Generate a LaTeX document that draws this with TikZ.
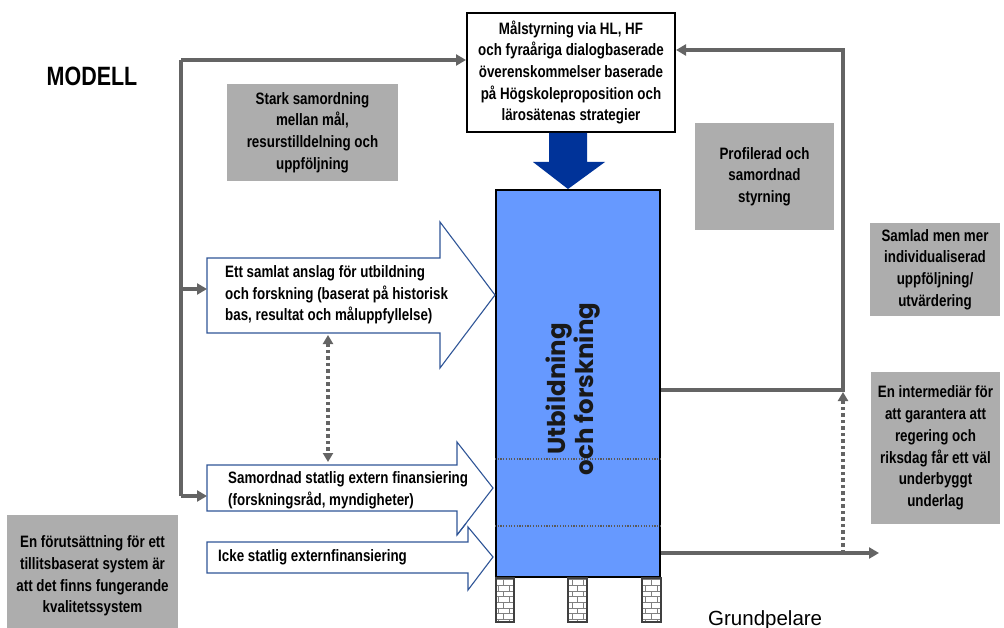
\documentclass[tikz,border=0pt]{standalone}
\usepackage{fontspec}
\setmainfont{Liberation Sans}
\newfontfamily\nb[FakeStretch=0.81]{Liberation Sans}
\newfontfamily\geo{Poppins}
\usetikzlibrary{patterns,arrows.meta}
\definecolor{boxgray}{HTML}{ADADAD}
\definecolor{linegray}{HTML}{646464}
\definecolor{ubblue}{HTML}{6699FF}
\definecolor{darkblue}{HTML}{003399}
\definecolor{outblue}{HTML}{2F5597}
\tikzset{
  graybox/.style={fill=boxgray, draw=none, align=center, inner sep=0pt, font=\nb\bfseries\fontsize{16.5}{21.7}\selectfont},
  txt/.style={align=left, inner sep=0pt, font=\nb\bfseries\fontsize{16.5}{21.7}\selectfont},
  conn/.style={draw=linegray, line width=3.4pt, -{Triangle[length=10pt,width=11pt]}},
  dotconn/.style={draw=linegray, line width=4pt, dash pattern=on 3.5pt off 3pt},
  bigarrow/.style={draw=outblue, line width=1.1pt, fill=white},
  pillar/.style={draw=black!75, line width=2pt, pattern=bricks, pattern color=black!50},
}
\begin{document}
\begin{tikzpicture}[x=1pt,y=-1pt]
\useasboundingbox (0,0) rectangle (1004,628);
% title
\node[font=\nb\bfseries\fontsize{26.5}{30}\selectfont, inner sep=0pt] (title) at (92,76) {MODELL};
% top box
\node[draw=black, line width=2pt, minimum width=208pt, minimum height=119pt, inner sep=0pt, align=center,
  font=\nb\bfseries\fontsize{16.5}{21.7}\selectfont] (goal) at (571,72.5)
  {Målstyrning via HL, HF\\och fyraåriga dialogbaserade\\överenskommelser baserade\\på Högskoleproposition och\\lärosätenas strategier};
% gray boxes
\node[graybox, minimum width=171pt, minimum height=97pt] (stark) at (312.5,132.5) {Stark samordning\\mellan mål,\\resurstilldelning och\\uppföljning};
\node[graybox, minimum width=139pt, minimum height=107pt] (prof) at (764.5,176.5) {Profilerad och\\samordnad\\styrning};
\node[graybox, minimum width=130pt, minimum height=93pt] (saml) at (935,269.5) {Samlad men mer\\individualiserad\\uppföljning/\\utvärdering};
\node[graybox, minimum width=129pt, minimum height=152pt] (inter) at (935.5,448) {En intermediär för\\att garantera att\\regering och\\riksdag får ett väl\\underbyggt\\underlag};
\node[graybox, minimum width=171pt, minimum height=113pt] (forut) at (92.5,571.5) {};
\node[txt, align=center] (forutt) at (92.5,576) {En förutsättning för ett\\tillitsbaserat system är\\att det finns fungerande\\kvalitetssystem};
% blue box
\node[draw=black, line width=2pt, fill=ubblue, minimum width=164pt, minimum height=387pt, inner sep=0pt] (ub) at (578,383.5) {};
\draw[black!65, line width=1.2pt, dash pattern=on 1.2pt off 1.5pt] (ub.west |- 0,459) -- (ub.east |- 0,459);
\draw[black!65, line width=1.2pt, dash pattern=on 1.2pt off 1.5pt] (ub.west |- 0,526) -- (ub.east |- 0,526);
\node[rotate=90, align=center, inner sep=0pt, text=black!90, font=\geo\bfseries\fontsize{24.5}{26}\selectfont] (ubt) at (573,389) {Utbildning\\och forskning};
% pillars
\draw[pillar] (496,578) rectangle (514,622);
\draw[pillar] (568,578) rectangle (587,622);
\draw[pillar] (642,578) rectangle (661,622);
\node[font=\fontsize{20.5}{24}\selectfont, inner sep=0pt, anchor=base west] (grund) at (708,625) {Grundpelare};
% down arrow
\fill[darkblue] (549,133) -- (587,133) -- (587,162) -- (605,162) -- (568,189) -- (533,162) -- (549,162) -- cycle;
% big arrows
\path[bigarrow] (207,465) -- (457,465) -- (457,442) -- (493,488) -- (457,535) -- (457,511) -- (207,511) -- cycle;
\path[bigarrow] (207,542) -- (468,542) -- (468,527) -- (493,557) -- (468,590) -- (468,573) -- (207,573) -- cycle;
\draw[outblue, line width=1.1pt] (457,535) -- (466,523.5);
\path[bigarrow] (207,258) -- (440,258) -- (440,222) -- (495,295) -- (440,368) -- (440,333) -- (207,333) -- cycle;
\node[txt, anchor=west] (a1) at (225,295) {Ett samlat anslag för utbildning\\och forskning (baserat på historisk\\bas, resultat och måluppfyllelse)};
\node[txt, anchor=west] (a2) at (228,490) {Samordnad statlig extern finansiering\\(forskningsråd, myndigheter)};
\node[txt, anchor=west] (a3) at (218,557) {Icke statlig externfinansiering};
\coordinate (a1w) at (207,289);
\coordinate (a2w) at (207,496);
% left connector system
\coordinate (ltop) at (181,60);
\coordinate (lbot) at (181,496);
\draw[draw=linegray, line width=3.4pt] (lbot) -- (ltop);
\draw[conn] (ltop) -- (goal.west |- ltop);
\draw[conn] (ltop |- a1w) -- (a1w);
\draw[conn] (lbot) -- (a2w);
% dotted double arrow
\coordinate (d1) at (328,335);
\coordinate (d2) at (328,462);
\draw[dotconn, {Triangle[length=9pt,width=10pt]}-{Triangle[length=9pt,width=10pt]}] (d1) -- (d2);
% right feedback
\coordinate (rtop) at (843,50);
\coordinate (rmid) at (843,390);
\coordinate (rbot) at (843,553);
\coordinate (rend) at (879,553);
\draw[conn] (ub.east |- rmid) -- (rmid) -- (rtop) -- (goal.east |- rtop);
\draw[conn] (ub.east |- rbot) -- (rend);
\draw[dotconn, -{Triangle[length=9pt,width=10pt]}] (rbot) -- ([yshift=-2pt]rmid);
\end{tikzpicture}
\end{document}
